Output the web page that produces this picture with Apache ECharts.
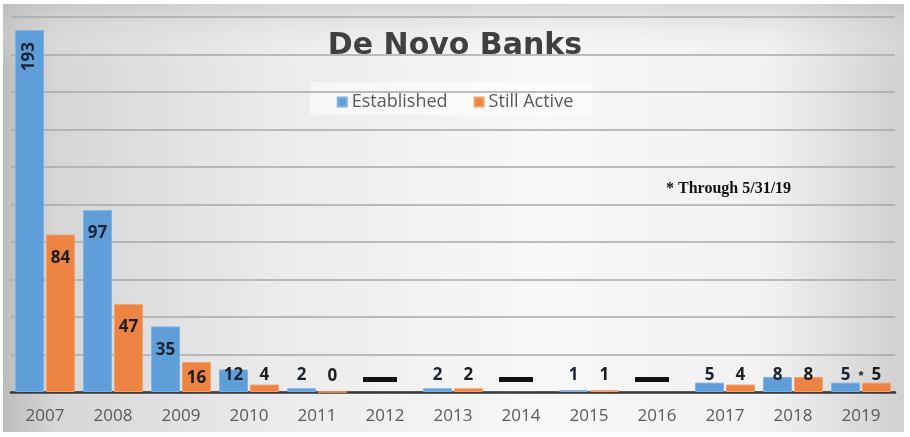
<!DOCTYPE html>
<html><head><meta charset="utf-8">
<script src="https://cdn.jsdelivr.net/npm/echarts@6/dist/echarts.min.js"></script>
<style>html,body{margin:0;padding:0;background:#fff}#c{width:910px;height:437px}</style>
</head><body><div id="c"></div>
<script>
const years = ['2007','2008','2009','2010','2011','2012','2013','2014','2015','2016','2017','2018','2019'];
const established = [193, 97, 35, 12, 2, null, 2, null, 1, null, 5, 8, 5];
const stillActive = [84, 47, 16, 4, 0, null, 2, null, 1, null, 4, 8, 5];
const noDataMarks = [null, null, null, null, null, '—', null, '—', null, '—', null, null, '*'];
const yTicks = {min: 0, max: 200, interval: 20};
const footnote = '* Through 5/31/19';

function barLabel(v, i, s) {
  if (i === 0 && s === 0) {
    return {show: true, position: 'insideTop', distance: 12, rotate: 90, align: 'right', verticalAlign: 'middle'};
  }
  if (v >= 30) {
    return {show: true, position: 'insideTop', distance: 15, rotate: 0};
  }
  if (v >= 16) {
    return {show: true, position: 'insideTop', distance: 8, rotate: 0};
  }
  return {show: true, position: 'insideBottom', distance: 8, rotate: 0};
}
function mkData(arr, s) {
  return arr.map((v, i) => v == null ? null : {value: v, label: barLabel(v, i, s)});
}
const dashData = noDataMarks.map(m => {
  if (m == null) return null;
  if (m === '—') return {value: 0, label: {show: true, position: 'insideBottom', distance: 10, offset: [-5, 0],
    formatter: '{d|}', rich: {d: {width: 34, height: 5, backgroundColor: '#111'}}}};
  return {value: 0, label: {show: true, position: 'insideBottom', distance: 9, formatter: m,
    fontSize: 13, fontWeight: 'bold', color: '#222'}};
});

const chart = echarts.init(document.getElementById('c'), null, {renderer: 'canvas'});
chart.setOption({
  animation: false,
  graphic: [
    {type: 'rect', z: -10, shape: {x: 3, y: 4, width: 901, height: 428},
     style: {fill: new echarts.graphic.LinearGradient(0, 0, 1, 0, [
       {offset: 0, color: '#bdbdbd'}, {offset: 0.06, color: '#d6d6d6'}, {offset: 0.3, color: '#ebebeb'},
       {offset: 0.6, color: '#f8f8f8'}, {offset: 0.85, color: '#f1f1f1'}, {offset: 1, color: '#d0d0d0'}])}},
    {type: 'rect', z: -9, shape: {x: 3, y: 4, width: 901, height: 60},
     style: {fill: new echarts.graphic.LinearGradient(0, 0, 0, 1, [
       {offset: 0, color: 'rgba(190,190,190,0.5)'}, {offset: 1, color: 'rgba(255,255,255,0)'}])}},
    {type: 'rect', z: -8, shape: {x: 310, y: 82, width: 282, height: 33},
     style: {fill: 'rgba(255,255,255,0.55)'}},
    {type: 'text', left: 666, top: 181, z: 10,
     style: {text: footnote, font: 'bold 16px "Liberation Serif", "DejaVu Serif", serif', fill: '#111'}}
  ],
  title: {text: 'De Novo Banks', left: 'center', top: 26,
    textStyle: {fontSize: 30, fontWeight: 'bold', color: '#404040', fontFamily: 'DejaVu Sans'}},
  legend: {data: ['Established', 'Still Active'], top: 88, left: 'center', itemGap: 26,
    icon: 'rect', itemWidth: 9, itemHeight: 9,
    textStyle: {fontSize: 18, color: '#595959', fontFamily: 'Open Sans'}},
  grid: {left: 11, right: 15, top: 17, bottom: 45},
  xAxis: [
    {type: 'category', data: years, axisTick: {show: false},
     axisLine: {lineStyle: {color: '#3a3a3a', width: 2.5}},
     axisLabel: {fontSize: 17, color: '#5a5a5a', margin: 16, fontFamily: 'Open Sans'}},
    {type: 'category', data: years, show: false}
  ],
  yAxis: {type: 'value', min: yTicks.min, max: yTicks.max, interval: yTicks.interval,
    axisLabel: {show: false}, axisLine: {show: false}, axisTick: {show: false},
    splitLine: {lineStyle: {color: '#a8a8a8', width: 1.5}}},
  series: [
    {name: 'Established', type: 'bar', data: mkData(established, 0), barGap: '7%', barCategoryGap: '12%',
     itemStyle: {color: '#5f9ed8', borderColor: '#7fb2e4', borderWidth: 1},
     label: {fontSize: 17, fontWeight: 'bold', color: '#1c2433', fontFamily: 'Open Sans'}},
    {name: 'Still Active', type: 'bar', data: mkData(stillActive, 1),
     itemStyle: {color: '#ee8443', borderColor: '#f5a06a', borderWidth: 1},
     label: {fontSize: 17, fontWeight: 'bold', color: '#1c1c1c', fontFamily: 'Open Sans'}},
    {name: 'marks', type: 'bar', xAxisIndex: 1, data: dashData, barWidth: 34,
     itemStyle: {color: 'rgba(0,0,0,0)'}, silent: true}
  ]
});
</script></body></html>
